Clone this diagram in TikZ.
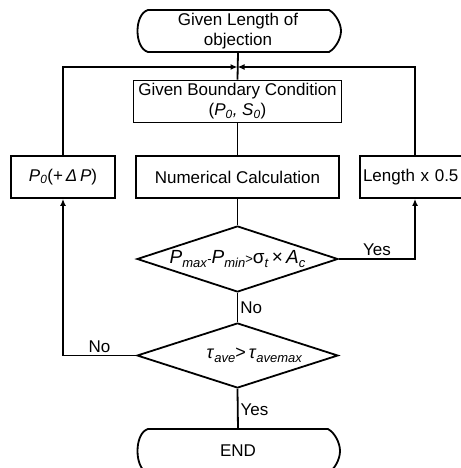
\documentclass[tikz,border=0pt]{standalone}
\usepackage{fontspec}
\setmainfont{Liberation Sans}
\usetikzlibrary{shapes.geometric,arrows.meta}

\newcommand{\lowsub}[1]{\raisebox{-3.5pt}{\fontsize{13}{13}\selectfont\textit{#1}}}

\tikzset{
  flow/.style={line width=1.8pt},
  box/.style={draw, line width=1.8pt, minimum height=42, inner sep=1},
  decision/.style={draw, diamond, line width=1.8pt, inner sep=0},
  term/.style={minimum width=204, minimum height=42, inner sep=0, align=center},
  lbl/.style={inner sep=2}
}

\begin{document}
\begin{tikzpicture}[x=1pt, y=-1pt, font=\fontsize{17}{20}\selectfont, >={Latex[length=7pt,width=6pt]}]
        \useasboundingbox (0,0) rectangle (460,468);

        % Start and end
        \node[term] (start) at (238,31) {Given Length of\\objection};
        \draw[flow] (148,10) -- (329,10) .. controls (336,14) and (341,24) .. (341,31)
            .. controls (341,38) and (336,48) .. (329,52) -- (148,52)
            .. controls (134,48) and (134,14) .. (148,10) -- cycle;
        \node[term] (stop) at (238,451) {END};
        \draw[flow] (148,429) -- (328,429) .. controls (335,433) and (340,443) .. (340,451)
            .. controls (340,459) and (335,469) .. (328,473) -- (148,473)
            .. controls (134,469) and (134,433) .. (148,429) -- cycle;

        % Boxes
        \node[box, minimum width=208, align=center] (cond) at (237.5,101.5)
            {Given Boundary Condition\\(\textit{P}\textsubscript{\textit{0}}\textit{,} \textit{S}\textsubscript{\textit{0}})};
        \node[box, minimum width=203] (calc) at (237.5,177) {Numerical Calculation};
        \node[box, minimum width=104] (p0) at (63,177)
            {\textit{P}\textsubscript{\textit{0}}(+\,\textit{Δ\,P})};
        \node[box, minimum width=110, text width=104, align=left] (len) at (415,177) {Length x 0.5};

        % Decisions
        \node[decision, minimum width=201, minimum height=66] (dec1) at (237.5,259) {};
        \node[inner sep=0, font=\fontsize{19}{20}\selectfont] (dec1text) at (dec1)
            {\textit{P}\lowsub{max}{\fontsize{13}{13}\selectfont -}\textit{P}\lowsub{min}{\fontsize{13}{13}\selectfont >}σ\lowsub{t}\,×\,\textit{A}\lowsub{c}};
        \node[decision, minimum width=201, minimum height=65] (dec2) at (237.5,355.5) {};
        \node[inner sep=0, font=\fontsize{18}{20}\selectfont] (dec2text) at ([xshift=17]dec2)
            {\textit{τ}\lowsub{ave}>\,\textit{τ}\lowsub{avemax}};

        % Connectors
        \coordinate (join) at (237.5,67);
        \draw[flow] (start.south) -- (cond.north);
        \draw[flow,->] (p0.north) |- (join);
        \draw[flow,->] (len.north) |- (join);
        \draw[flow] (cond.south) -- (calc.north);
        \draw[flow] (calc.south) -- (dec1.north);
        \draw[flow] (dec1.south) -- node[lbl, right] {No} (dec2.north);
        \draw[flow] (dec2.south) -- node[lbl, right] {Yes} (stop.north);
        \draw[flow,->] (dec1.east) -| node[lbl, above, pos=0.25] {Yes} (len.south);
        \draw[flow,->] (dec2.west) -| node[lbl, above, pos=0.25] {No} (p0.south);
\end{tikzpicture}
\end{document}
